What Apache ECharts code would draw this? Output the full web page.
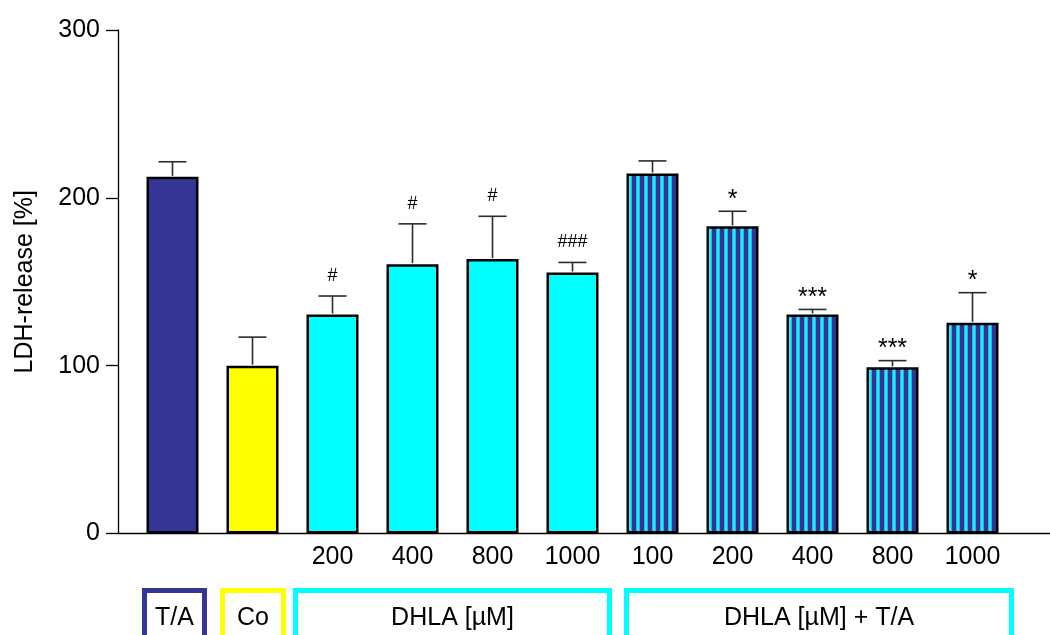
<!DOCTYPE html>
<html>
<head>
<meta charset="utf-8">
<script src="https://cdn.jsdelivr.net/npm/echarts@6/dist/echarts.min.js"></script>
<style>html,body{margin:0;padding:0;background:#fff}#c{width:1050px;height:635px}</style>
</head>
<body>
<div id="c"></div>
<script>
// ---- data ----
const categories = ['T/A', 'Co', 'DHLA 200', 'DHLA 400', 'DHLA 800', 'DHLA 1000',
  'DHLA+T/A 100', 'DHLA+T/A 200', 'DHLA+T/A 400', 'DHLA+T/A 800', 'DHLA+T/A 1000'];
const tickLabels = ['', '', '200', '400', '800', '1000', '100', '200', '400', '800', '1000'];
const means = [212.5, 100, 130.5, 160.5, 163.5, 155.5, 214.5, 183, 130.5, 99, 125.5];
const errTops = [221.5, 117, 141.5, 184.5, 189, 161.5, 222, 192, 133.5, 103, 143.5];
const annotations = ['', '', '#', '#', '#', '###', '', '*', '***', '***', '*'];
const barKinds = ['ta', 'co', 'dhla', 'dhla', 'dhla', 'dhla', 'mix', 'mix', 'mix', 'mix', 'mix'];
const groupLabels = ['T/A', 'Co', 'DHLA [µM]', 'DHLA [µM] + T/A'];
const groupFrom = [0, 1, 2, 6];
const groupTo = [0, 1, 5, 10];
const groupKinds = ['ta', 'co', 'dhla', 'dhla'];
const yTicks = [0, 100, 200, 300];

// ---- styles ----
const NAVY = '#353596', YEL = '#ffff00', CYAN = '#00ffff';
const FONT = '"Liberation Sans", Arial, sans-serif';
function stripe() {
  const c = document.createElement('canvas');
  c.width = 8; c.height = 8;
  const g = c.getContext('2d');
  g.fillStyle = NAVY; g.fillRect(0, 0, 8, 8);
  g.fillStyle = '#3aa6e0'; g.fillRect(4, 0, 1, 8); g.fillRect(7, 0, 1, 8);
  g.fillStyle = CYAN; g.fillRect(5, 0, 2, 8);
  return c;
}
const fills = { ta: NAVY, co: YEL, dhla: CYAN, mix: { image: stripe(), repeat: 'repeat' } };
const bracketColors = { ta: '#353596', co: '#ffff00', dhla: '#00ffff' };
const bracketPads = [[28, 32], [30, 31], [37, 37], [26, 39]];

const chart = echarts.init(document.getElementById('c'), null, { renderer: 'canvas' });
const option = {
  animation: false,
  grid: { left: 132.5, right: 37.5, top: 30, bottom: 101.5, containLabel: false },
  xAxis: {
    type: 'category', data: categories,
    axisLine: { show: false }, axisTick: { show: false },
    axisLabel: { interval: 0, margin: 11, fontSize: 25, color: '#000', fontFamily: FONT,
      formatter: (v, i) => tickLabels[i] }
  },
  yAxis: {
    type: 'value', min: yTicks[0], max: yTicks[yTicks.length - 1], interval: 100, offset: 14.5,
    name: 'LDH-release [%]', nameLocation: 'middle', nameRotate: 90, nameGap: 80,
    nameTextStyle: { fontSize: 25, color: '#000', fontFamily: FONT },
    axisLine: { show: true, lineStyle: { color: '#000', width: 1.3 } },
    axisTick: { show: true, length: 12, lineStyle: { color: '#000', width: 1.3 } },
    axisLabel: { margin: 18, fontSize: 25, color: '#000', fontFamily: FONT },
    splitLine: { show: false }
  },
  series: [
    {
      type: 'bar', barWidth: 52,
      data: means.map((v, i) => ({ value: v, itemStyle: { color: fills[barKinds[i]] } })),
      itemStyle: { borderColor: '#000', borderWidth: 2.5 },
      z: 2
    },
    {
      type: 'custom', z: 3,
      data: errTops.map((t, i) => [i, means[i], t]),
      renderItem: function (params, api) {
        const i = api.value(0);
        const base = api.coord([i, api.value(1)]);
        const top = api.coord([i, api.value(2)]);
        const st = { stroke: '#2b2b2b', lineWidth: 1.6 };
        const children = [
          { type: 'line', shape: { x1: top[0], y1: base[1] - 1, x2: top[0], y2: top[1] }, style: st },
          { type: 'line', shape: { x1: top[0] - 14, y1: top[1], x2: top[0] + 14, y2: top[1] }, style: st }
        ];
        const a = annotations[i];
        if (a) {
          const star = a.indexOf('*') >= 0;
          children.push({ type: 'text', style: {
            text: a, x: top[0], y: top[1] - (star ? -1 : 11), align: 'center', verticalAlign: 'bottom',
            font: (star ? '25px ' : '18px ') + FONT, fill: '#000' } });
        }
        return { type: 'group', children };
      }
    }
  ]
};
chart.setOption(option);

function drawExtras() {
  const y0 = chart.convertToPixel({ yAxisIndex: 0 }, 0);
  const g = [{ type: 'line', shape: { x1: 118, y1: y0, x2: 1050, y2: y0 },
    style: { stroke: '#000', lineWidth: 1.3 }, z: 10 }];
  groupLabels.forEach((lab, k) => {
    const xa = chart.convertToPixel({ xAxisIndex: 0 }, categories[groupFrom[k]]) - bracketPads[k][0];
    const xb = chart.convertToPixel({ xAxisIndex: 0 }, categories[groupTo[k]]) + bracketPads[k][1];
    const yt = y0 + 57;
    g.push({ type: 'polyline', shape: { points: [[xa, 660], [xa, yt], [xb, yt], [xb, 660]] },
      style: { stroke: bracketColors[groupKinds[k]], lineWidth: 5, fill: null } });
    g.push({ type: 'text', style: { text: lab, x: (xa + xb) / 2, y: y0 + 85, align: 'center',
      verticalAlign: 'middle', font: '25px ' + FONT, fill: '#000' } });
  });
  chart.setOption({ graphic: g });
}
drawExtras();
</script>
</body>
</html>
